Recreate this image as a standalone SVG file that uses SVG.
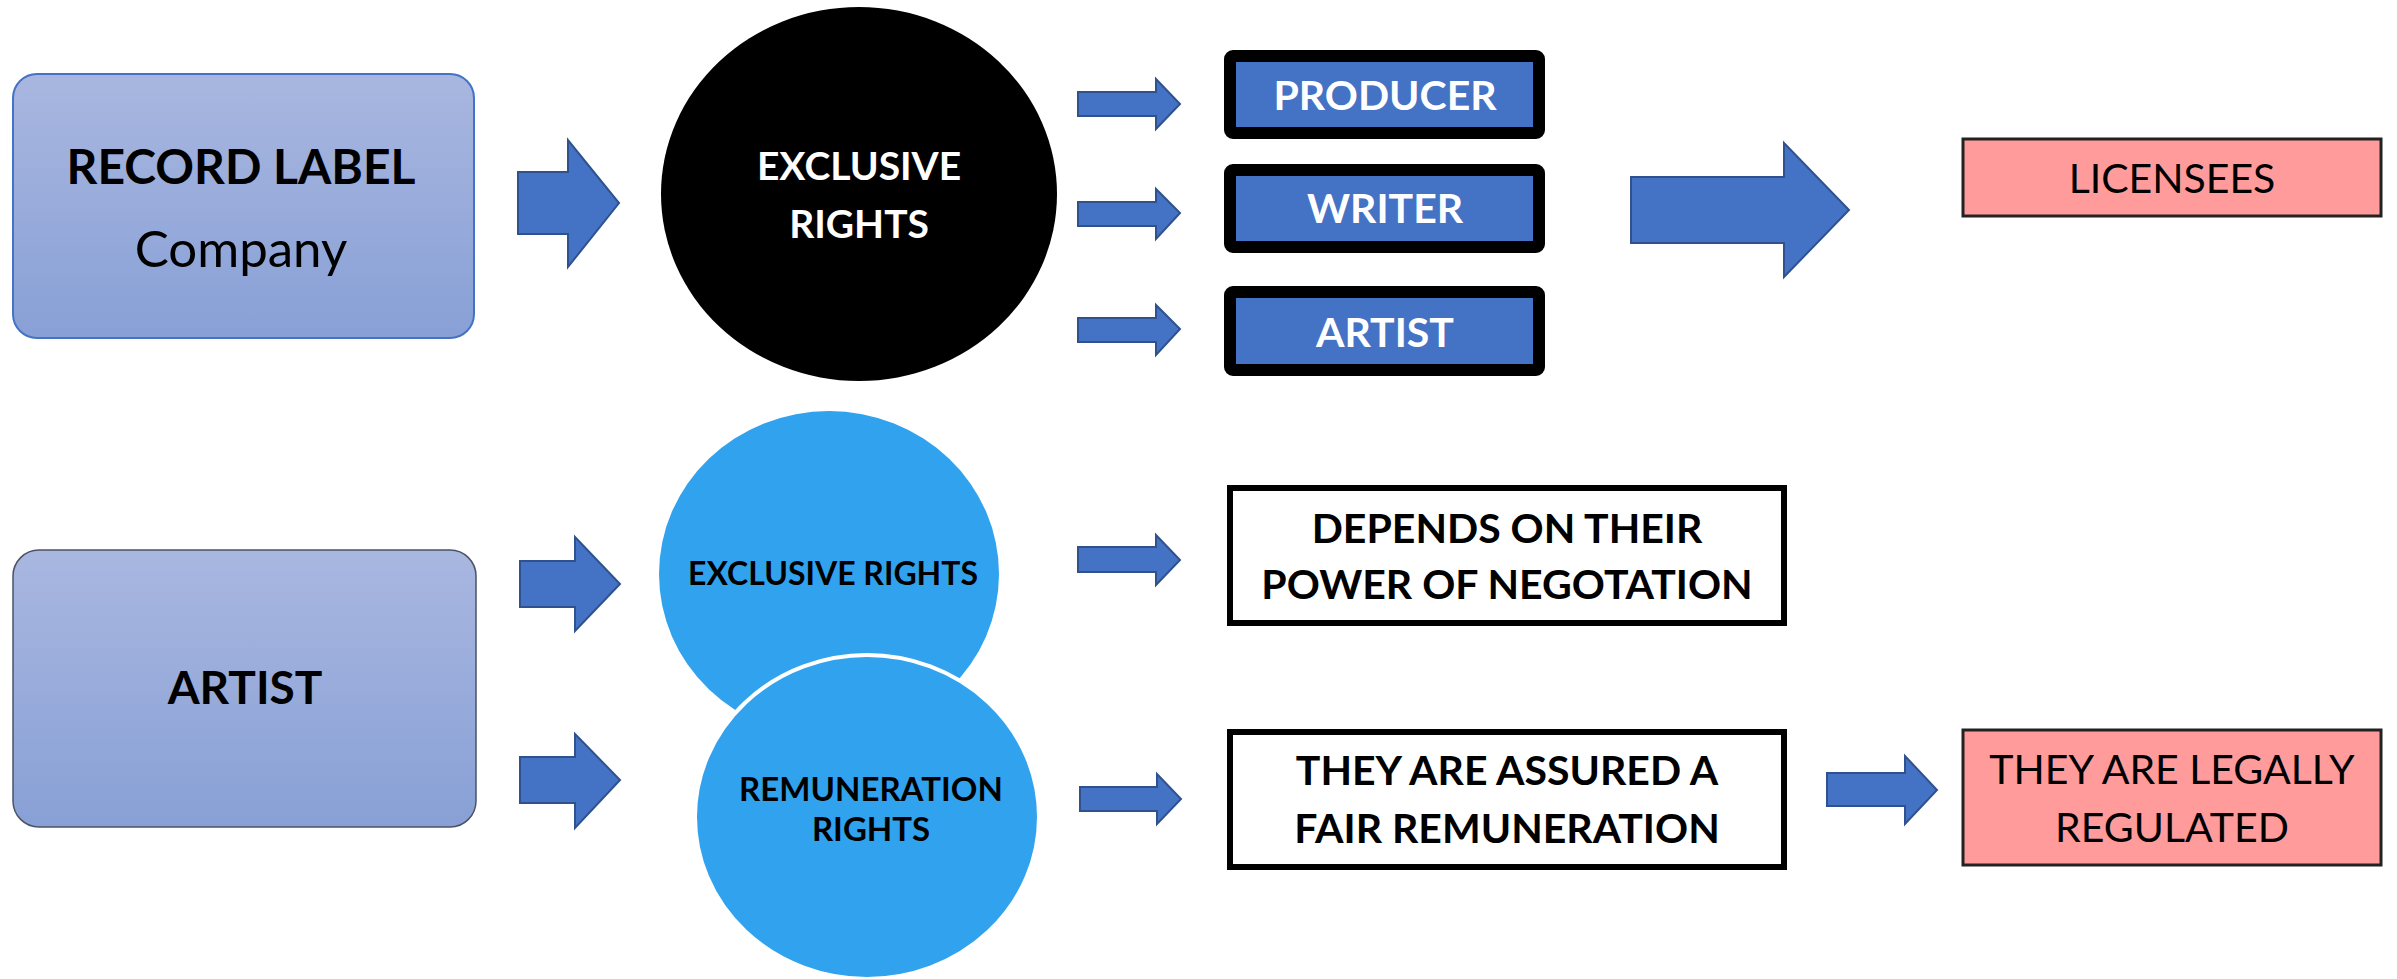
<svg xmlns="http://www.w3.org/2000/svg" width="2397" height="979" viewBox="0 0 2397 979">
<defs>
<linearGradient id="boxGrad" x1="0" y1="0" x2="0" y2="1">
<stop offset="0" stop-color="#A9B7E0"/>
<stop offset="1" stop-color="#88A0D6"/>
</linearGradient>
<style>
.arrow{fill:#4472C4;stroke:#2F528F;stroke-width:2}
.t{font-family:Lato,"Liberation Sans",sans-serif;text-anchor:middle}
.b{font-weight:bold}
.blk{fill:#000}
.wht{fill:#fff}
.roleBox{fill:#4472C4;stroke:#000;stroke-width:12}
.outBox{fill:#fff;stroke:#000;stroke-width:6}
.pink{fill:#FF9B9B;stroke:#222;stroke-width:3}
.bubble{fill:#31A3EE}
</style>
</defs>
<rect width="2397" height="979" fill="#fff"/>

<g id="record-label">
<rect x="13" y="74" width="461" height="264" rx="24" fill="url(#boxGrad)" stroke="#4472C4" stroke-width="2"/>
<text class="t b blk" x="241" y="184" font-size="48">RECORD LABEL</text>
<text class="t blk" x="241" y="267" font-size="51">Company</text>
</g>

<g id="exclusive-rights-label">
<ellipse cx="859" cy="194" rx="198" ry="187" fill="#000"/>
<text class="t b wht" x="859" y="180" font-size="39">EXCLUSIVE</text>
<text class="t b wht" x="859" y="238" font-size="39">RIGHTS</text>
</g>

<g id="producer">
<rect x="1230" y="56" width="309" height="77" rx="3" class="roleBox"/>
<text class="t b wht" x="1385" y="110" font-size="41">PRODUCER</text>
</g>
<g id="writer">
<rect x="1230" y="170" width="309" height="77" rx="3" class="roleBox"/>
<text class="t b wht" x="1385" y="223" font-size="41">WRITER</text>
</g>
<g id="artist-role">
<rect x="1230" y="292" width="309" height="78" rx="3" class="roleBox"/>
<text class="t b wht" x="1385" y="347" font-size="41">ARTIST</text>
</g>

<g id="licensees">
<rect x="1963" y="139" width="418" height="77" class="pink"/>
<text class="t" x="2172" y="193" font-size="41">LICENSEES</text>
</g>

<g id="artist">
<rect x="13" y="550" width="463" height="277" rx="26" fill="url(#boxGrad)" stroke="#4A5366" stroke-width="1.5"/>
<text class="t b blk" x="245" y="704" font-size="46">ARTIST</text>
</g>

<g id="artist-exclusive-rights">
<ellipse cx="829" cy="574" rx="170" ry="163" class="bubble"/>
<text class="t b blk" x="833" y="585" font-size="32">EXCLUSIVE RIGHTS</text>
</g>

<g id="remuneration-rights">
<ellipse cx="867" cy="817" rx="172" ry="162" class="bubble" stroke="#fff" stroke-width="4"/>
<text class="t b blk" x="871" y="801" font-size="33">REMUNERATION</text>
<text class="t b blk" x="871" y="841" font-size="33">RIGHTS</text>
</g>

<g id="negotiation">
<rect x="1230" y="488" width="554" height="135" class="outBox"/>
<text class="t b blk" x="1507" y="543" font-size="41">DEPENDS ON THEIR</text>
<text class="t b blk" x="1507" y="599" font-size="41">POWER OF NEGOTATION</text>
</g>

<g id="fair-remuneration">
<rect x="1230" y="732" width="554" height="135" class="outBox"/>
<text class="t b blk" x="1507" y="785" font-size="41">THEY ARE ASSURED A</text>
<text class="t b blk" x="1507" y="843" font-size="41">FAIR REMUNERATION</text>
</g>

<g id="legally-regulated">
<rect x="1963" y="730" width="418" height="135" class="pink"/>
<text class="t" x="2172" y="784" font-size="41">THEY ARE LEGALLY</text>
<text class="t" x="2172" y="842" font-size="41">REGULATED</text>
</g>

<g id="connectors">
<polygon class="arrow" points="518,172 568,172 568,140 619,203 568,267 568,234 518,234"/>
<polygon class="arrow" points="1078,92 1156,92 1156,79 1180,104 1156,129 1156,116 1078,116"/>
<polygon class="arrow" points="1078,202 1156,202 1156,189 1180,213 1156,239 1156,226 1078,226"/>
<polygon class="arrow" points="1078,318 1156,318 1156,305 1180,329 1156,355 1156,342 1078,342"/>
<polygon class="arrow" points="1631,177 1784,177 1784,143 1849,210 1784,277 1784,243 1631,243"/>
<polygon class="arrow" points="520,561 575,561 575,537 620,584 575,631 575,607 520,607"/>
<polygon class="arrow" points="520,757 575,757 575,734 620,780 575,828 575,803 520,803"/>
<polygon class="arrow" points="1078,547 1156,547 1156,535 1180,560 1156,585 1156,572 1078,572"/>
<polygon class="arrow" points="1080,787 1157,787 1157,774 1181,799 1157,824 1157,811 1080,811"/>
<polygon class="arrow" points="1827,773 1905,773 1905,756 1937,790 1905,824 1905,806 1827,806"/>
</g>
</svg>
